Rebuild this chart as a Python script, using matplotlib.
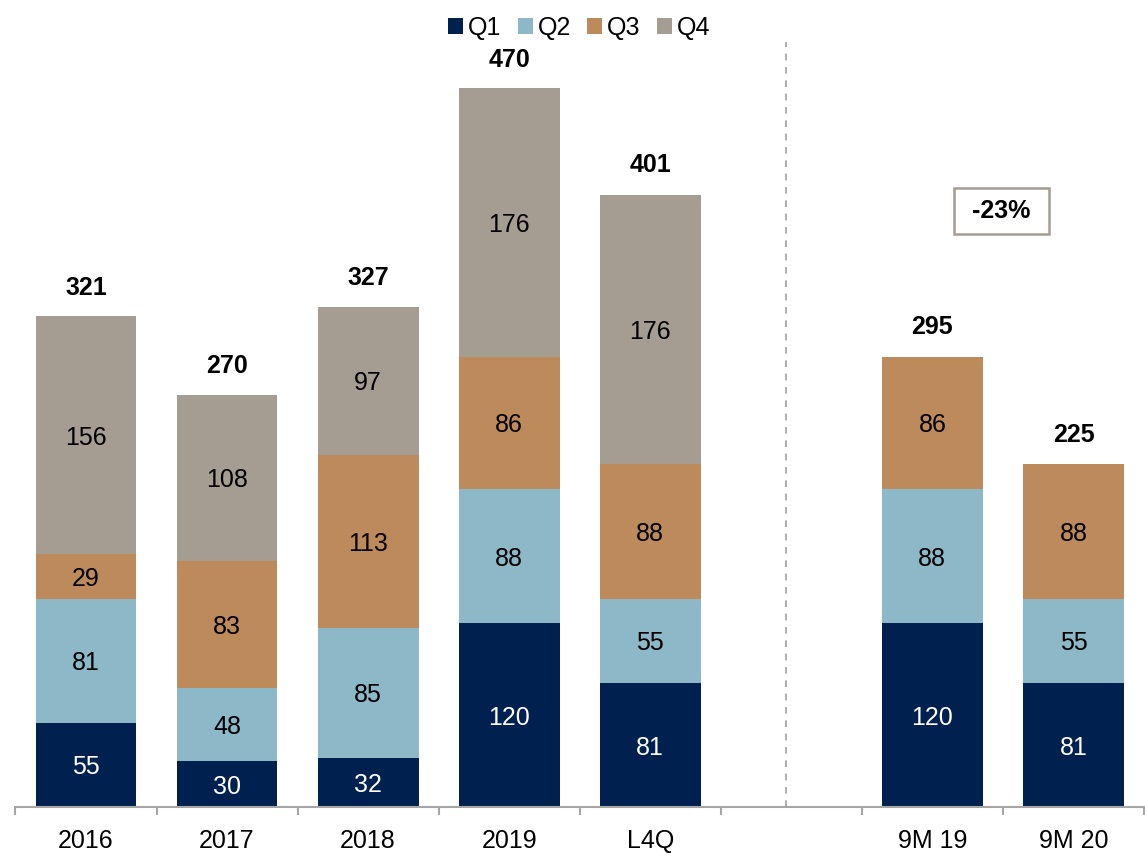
import matplotlib

matplotlib.use("Agg")
import matplotlib.pyplot as plt
import numpy as np
from matplotlib.ticker import FixedLocator

plt.rcParams["font.family"] = ["Liberation Sans", "DejaVu Sans"]

categories = ["2016", "2017", "2018", "2019", "L4Q", "", "9M 19", "9M 20"]
q1 = [55, 30, 32, 120, 81, 0, 120, 81]
q2 = [81, 48, 85, 88, 55, 0, 88, 55]
q3 = [29, 83, 113, 86, 88, 0, 86, 88]
q4 = [156, 108, 97, 176, 176, 0, 0, 0]
totals = [321, 270, 327, 470, 401, None, 295, 225]
change_label = "-23%"

series = [("Q1", q1, "#00214f", "white"),
          ("Q2", q2, "#8db8c7", "black"),
          ("Q3", q3, "#bd8a5c", "black"),
          ("Q4", q4, "#a59c92", "black")]

fig = plt.figure(figsize=(11.45, 8.58), dpi=100)
ax = fig.add_axes([0.0135, 0.0594, 0.9856, 0.892])

x = np.arange(len(categories))
bottom = np.zeros(len(categories))
for name, vals, color, tcolor in series:
    vals = np.array(vals, dtype=float)
    ax.bar(x, vals, width=0.715, bottom=bottom, color=color, label=name, zorder=2)
    for xi, b, v in zip(x, bottom, vals):
        if v > 0:
            ax.text(xi, b + v / 2, f"{int(v)}", ha="center", va="center_baseline",
                    fontsize=18, color=tcolor, zorder=3)
    bottom += vals

for xi, t in zip(x, totals):
    if t is not None:
        ax.annotate(f"{t}", (xi, t), xytext=(0, 22), textcoords="offset points",
                    ha="center", va="center_baseline", fontsize=18, fontweight="bold")

ax.axvline(4.96, ymin=0, ymax=1, color="#a0a0a0", linestyle=(0, (4, 4)), linewidth=1.2)

ax.text(6.49, 391, f" {change_label} ", ha="center", va="center_baseline", fontsize=18, fontweight="bold",
        bbox=dict(boxstyle="square,pad=0.45", facecolor="white", edgecolor="#a59c92", linewidth=1.8))

ax.set_xlim(-0.5, len(categories) - 0.5)
ax.set_ylim(0, 500)
ax.set_yticks([])
ax.set_xticks(x)
ax.set_xticklabels(categories, fontsize=18)
ax.xaxis.set_minor_locator(FixedLocator(np.arange(-0.5, len(categories), 1.0)))
ax.tick_params(axis="x", which="major", length=0, pad=16)
ax.tick_params(axis="x", which="minor", length=6, width=1.5, color="#a6a6a6")
for side in ["left", "right", "top"]:
    ax.spines[side].set_visible(False)
ax.spines["bottom"].set_color("#a6a6a6")
ax.spines["bottom"].set_linewidth(1.5)

fig.legend(loc="upper center", bbox_to_anchor=(0.506, 1.008), ncol=4, frameon=False,
           fontsize=18, handlelength=0.6, handleheight=0.6, handletextpad=0.2,
           columnspacing=0.65)

fig.savefig("out.png", dpi=100)
